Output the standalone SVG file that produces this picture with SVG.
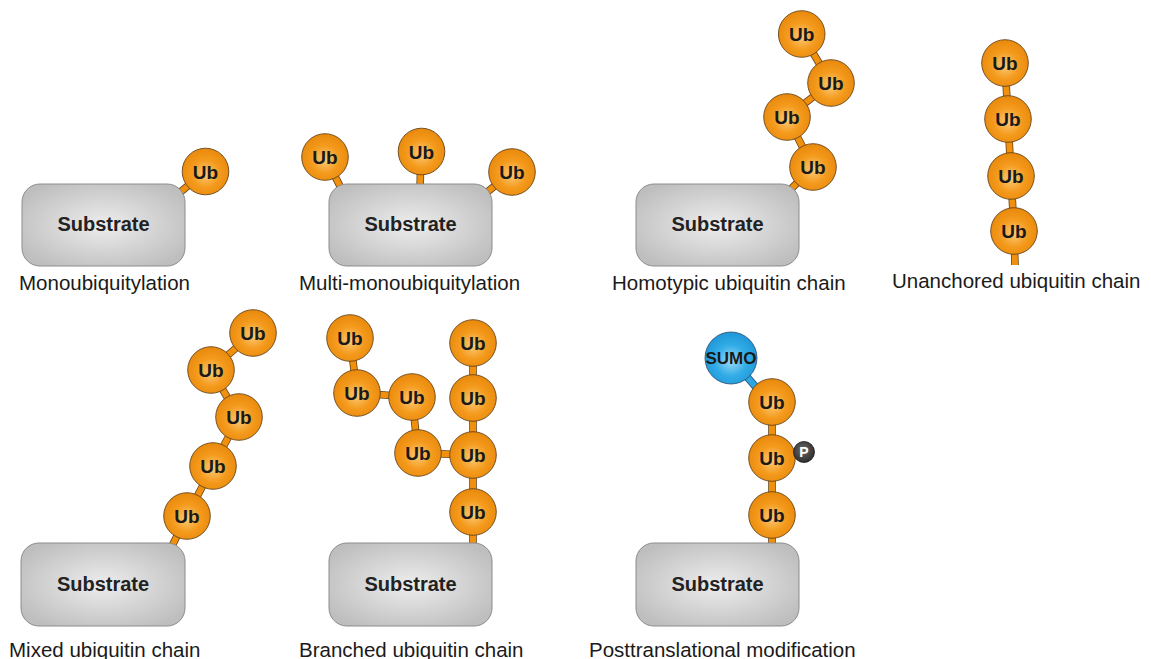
<svg xmlns="http://www.w3.org/2000/svg" width="1151" height="659" viewBox="0 0 1151 659">
<defs>
<radialGradient id="gUb" cx="0.5" cy="0.55" r="0.55">
<stop offset="0" stop-color="#FBCB7A"/>
<stop offset="0.55" stop-color="#F49A1C"/>
<stop offset="1" stop-color="#E8890C"/>
</radialGradient>
<radialGradient id="gSumo" cx="0.5" cy="0.55" r="0.55">
<stop offset="0" stop-color="#9EDCF7"/>
<stop offset="0.55" stop-color="#32ACE6"/>
<stop offset="1" stop-color="#1E96D8"/>
</radialGradient>
<radialGradient id="gSub" cx="0.5" cy="0.5" r="0.6">
<stop offset="0" stop-color="#EDEDED"/>
<stop offset="1" stop-color="#BEBEBE"/>
</radialGradient>
<radialGradient id="gP" cx="0.45" cy="0.4" r="0.6">
<stop offset="0" stop-color="#6a6a6a"/>
<stop offset="1" stop-color="#2e2e2e"/>
</radialGradient>
</defs>
<style>
.sub{fill:url(#gSub);stroke:#8c8c8c;stroke-width:1}
.ub{fill:url(#gUb);stroke:#6a4518;stroke-width:0.9}
.sumo{fill:url(#gSumo);stroke:#2a4a70;stroke-width:0.8}
.ubt{font-family:"Liberation Sans",Arial,sans-serif;font-weight:bold;font-size:19px;fill:#1a1a1a;text-anchor:middle}
.subt{font-family:"Liberation Sans",Arial,sans-serif;font-weight:bold;font-size:20px;fill:#222;text-anchor:middle}
.lab{font-family:"Liberation Sans",Arial,sans-serif;font-size:20.5px;fill:#1a1a1a}
.so{stroke:#6a4518;stroke-width:7.6;fill:none}
.si{stroke:#F0900C;stroke-width:6;fill:none}
.bo{stroke:#2a4a70;stroke-width:7.6;fill:none}
.bi{stroke:#2AA6E2;stroke-width:6;fill:none}
</style>
<rect width="1151" height="659" fill="#ffffff"/>
<g id="connectors">
<g id="c-outline">
<path class="so" d="M205.5 171.5L178 194"/>
<path class="so" d="M325 157L342 190M421 152L420 190M512 172L486 193"/>
<path class="so" d="M801.7 34L831 83L787 117L813 167L787 193"/>
<path class="so" d="M1005 63L1008 119L1011 176L1014 231L1015 265"/>
<path class="so" d="M253 333L211 370L239 417L213 466L187 516L170 550"/>
<path class="so" d="M350 338L357 393L412 397L418 453L473 455M473 343L473 548"/>
<path class="so" d="M772 402L772 548"/>
<path class="bo" d="M731 358L760 392"/>
</g>
<g id="c-fill">
<path class="si" d="M205.5 171.5L178 194"/>
<path class="si" d="M325 157L342 190M421 152L420 190M512 172L486 193"/>
<path class="si" d="M801.7 34L831 83L787 117L813 167L787 193"/>
<path class="si" d="M1005 63L1008 119L1011 176L1014 231L1015 265"/>
<path class="si" d="M253 333L211 370L239 417L213 466L187 516L170 550"/>
<path class="si" d="M350 338L357 393L412 397L418 453L473 455M473 343L473 548"/>
<path class="si" d="M772 402L772 548"/>
<path class="bi" d="M731 358L760 392"/>
</g>
</g>
<!-- Row 1 -->
<g id="mono">
<rect class="sub" x="22" y="184" width="163" height="82" rx="18"/>
<text class="subt" x="103.5" y="231">Substrate</text>
<circle class="ub" cx="205.5" cy="171.5" r="23.3"/><text class="ubt" x="205.5" y="178.5">Ub</text>
<text class="lab" x="19" y="290">Monoubiquitylation</text>
</g>
<g id="multi">
<rect class="sub" x="329" y="184" width="163" height="82" rx="18"/>
<text class="subt" x="410.5" y="231">Substrate</text>
<circle class="ub" cx="325" cy="157" r="23.3"/><text class="ubt" x="325" y="164">Ub</text>
<circle class="ub" cx="421.5" cy="151.5" r="23.3"/><text class="ubt" x="421.5" y="158.5">Ub</text>
<circle class="ub" cx="512" cy="172" r="23.3"/><text class="ubt" x="512" y="179">Ub</text>
<text class="lab" x="299" y="290">Multi-monoubiquitylation</text>
</g>
<g id="homotypic">
<rect class="sub" x="636" y="184" width="163" height="82" rx="18"/>
<text class="subt" x="717.5" y="231">Substrate</text>
<circle class="ub" cx="801.7" cy="34" r="23.3"/><text class="ubt" x="801.7" y="41">Ub</text>
<circle class="ub" cx="831" cy="83" r="23.3"/><text class="ubt" x="831" y="90">Ub</text>
<circle class="ub" cx="787" cy="117" r="23.3"/><text class="ubt" x="787" y="124">Ub</text>
<circle class="ub" cx="813" cy="167" r="23.3"/><text class="ubt" x="813" y="174">Ub</text>
<text class="lab" x="612" y="290">Homotypic ubiquitin chain</text>
</g>
<g id="unanchored">
<circle class="ub" cx="1005" cy="63" r="23.3"/><text class="ubt" x="1005" y="70">Ub</text>
<circle class="ub" cx="1008" cy="119" r="23.3"/><text class="ubt" x="1008" y="126">Ub</text>
<circle class="ub" cx="1011" cy="176" r="23.3"/><text class="ubt" x="1011" y="183">Ub</text>
<circle class="ub" cx="1014" cy="231" r="23.3"/><text class="ubt" x="1014" y="238">Ub</text>
<text class="lab" x="892" y="288">Unanchored ubiquitin chain</text>
</g>
<!-- Row 2 -->
<g id="mixed">
<rect class="sub" x="21" y="543" width="164" height="83" rx="18"/>
<text class="subt" x="103" y="591">Substrate</text>
<circle class="ub" cx="253" cy="333" r="23.3"/><text class="ubt" x="253" y="340">Ub</text>
<circle class="ub" cx="211" cy="370" r="23.3"/><text class="ubt" x="211" y="377">Ub</text>
<circle class="ub" cx="239" cy="417" r="23.3"/><text class="ubt" x="239" y="424">Ub</text>
<circle class="ub" cx="213" cy="466" r="23.3"/><text class="ubt" x="213" y="473">Ub</text>
<circle class="ub" cx="187" cy="516" r="23.3"/><text class="ubt" x="187" y="523">Ub</text>
<text class="lab" x="9" y="657">Mixed ubiquitin chain</text>
</g>
<g id="branched">
<rect class="sub" x="329" y="543" width="163" height="83" rx="18"/>
<text class="subt" x="410.5" y="591">Substrate</text>
<circle class="ub" cx="350" cy="338" r="23.3"/><text class="ubt" x="350" y="345">Ub</text>
<circle class="ub" cx="357" cy="393" r="23.3"/><text class="ubt" x="357" y="400">Ub</text>
<circle class="ub" cx="412" cy="397" r="23.3"/><text class="ubt" x="412" y="404">Ub</text>
<circle class="ub" cx="418" cy="453" r="23.3"/><text class="ubt" x="418" y="460">Ub</text>
<circle class="ub" cx="473" cy="343" r="23.3"/><text class="ubt" x="473" y="350">Ub</text>
<circle class="ub" cx="473" cy="398" r="23.3"/><text class="ubt" x="473" y="405">Ub</text>
<circle class="ub" cx="473" cy="455" r="23.3"/><text class="ubt" x="473" y="462">Ub</text>
<circle class="ub" cx="473" cy="512" r="23.3"/><text class="ubt" x="473" y="519">Ub</text>
<text class="lab" x="299" y="657">Branched ubiquitin chain</text>
</g>
<g id="ptm">
<rect class="sub" x="636" y="543" width="163" height="83" rx="18"/>
<text class="subt" x="717.5" y="591">Substrate</text>
<circle class="sumo" cx="731" cy="358" r="26"/>
<text x="731" y="364" style="font-family:'Liberation Sans',Arial,sans-serif;font-weight:bold;font-size:17px;fill:#1a1a1a;text-anchor:middle">SUMO</text>
<circle class="ub" cx="772" cy="402" r="23.3"/><text class="ubt" x="772" y="409">Ub</text>
<circle class="ub" cx="772" cy="458" r="23.3"/><text class="ubt" x="772" y="465">Ub</text>
<circle class="ub" cx="772" cy="515" r="23.3"/><text class="ubt" x="772" y="522">Ub</text>
<circle cx="804" cy="452" r="10.5" fill="url(#gP)" stroke="#1a1a1a" stroke-width="0.8"/>
<text x="804" y="457" style="font-family:'Liberation Sans',Arial,sans-serif;font-weight:bold;font-size:14px;fill:#ffffff;text-anchor:middle">P</text>
<text class="lab" x="589" y="657">Posttranslational modification</text>
</g>
</svg>
